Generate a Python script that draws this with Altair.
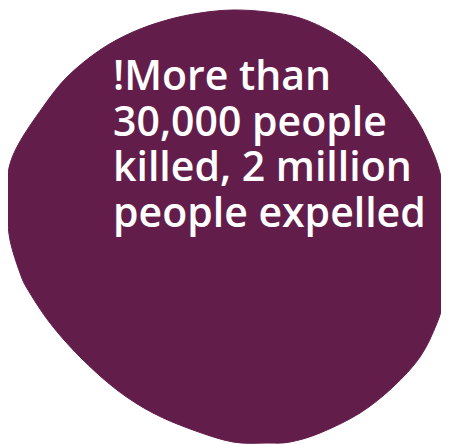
import altair as alt
import pandas as pd

# Blob outline (image pixel coordinates, y grows downward), clockwise from the top
blob_x = [233, 267, 300, 333, 367, 393, 417, 432, 440, 447, 448, 448, 447, 437, 420, 393, 360, 320, 290, 267,
          233, 193, 153, 117, 80, 50, 28, 20, 10, 7, 8, 18, 43, 67, 100, 133, 167, 200]
blob_y = [10, 12, 18, 33, 57, 87, 120, 150, 173, 207, 240, 273, 290, 323, 357, 387, 413, 433, 442, 443,
          442, 430, 413, 390, 357, 323, 290, 273, 240, 207, 173, 145, 107, 77, 50, 32, 20, 13]
text_lines = ["!More than", "30,000 people", "killed, 2 million", "people expelled"]

COLOR = "#631d4b"
W, H = 433, 436

blob = pd.DataFrame({"x": blob_x, "y": blob_y, "order": list(range(len(blob_x)))})

xs = alt.Scale(domain=[8, 8 + W], range=[0, W], nice=False, zero=False)
ys = alt.Scale(domain=[8, 8 + H], range=[0, H], nice=False, zero=False)

shape = alt.Chart(blob).mark_line(
    interpolate="cardinal-closed", fill=COLOR, stroke=COLOR, strokeWidth=1, clip=True
).encode(
    x=alt.X("x:Q", scale=xs, axis=None),
    y=alt.Y("y:Q", scale=ys, axis=None),
    order="order:Q",
)

label = alt.Chart(pd.DataFrame({"t": [text_lines]})).mark_text(
    align="left", baseline="alphabetic", font="Open Sans", fontWeight=600,
    fontSize=41, lineHeight=45.5, color="white"
).encode(
    x=alt.value(113 - 8),
    y=alt.value(90 - 8),
    text="t",
)

chart = alt.layer(shape, label).properties(
    width=W, height=H, padding=0, background="white"
).configure_view(stroke=None)

chart.save("out.html", embed_options={"renderer": "svg", "actions": False})
